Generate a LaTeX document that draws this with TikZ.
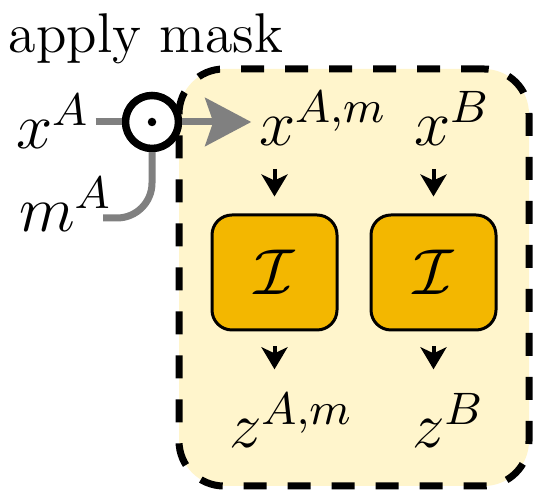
\RequirePackage{fix-cm}
\documentclass[tikz,border=0pt]{standalone}
\usetikzlibrary{arrows.meta,calc}
\definecolor{bgyellow}{HTML}{FFF5CC}
\definecolor{encorange}{HTML}{F3B700}
\definecolor{maskgray}{HTML}{808080}
\begin{document}
\begin{tikzpicture}[x=0.2pt,y=-0.2pt,
  lbl/.style={inner sep=0pt, anchor=base west, font=\fontsize{11.2}{13}\selectfont},
  mth/.style={inner sep=0pt, anchor=base west, font=\fontsize{13}{15}\selectfont},
  container/.style={draw=black, fill=bgyellow, line width=1.4pt, dash pattern=on 4.6pt off 4.2pt, rounded corners=9pt, minimum width=70pt, minimum height=83.4pt, inner sep=0pt},
  encbox/.style={draw=black, fill=encorange, line width=0.6pt, rounded corners=4pt, minimum width=25pt, minimum height=23pt, inner sep=0pt, font=\fontsize{13}{15}\selectfont},
  opnode/.style={circle, draw=black, line width=1.5pt, minimum size=10.6pt, inner sep=0pt},
  grayline/.style={draw=maskgray, line width=1.4pt},
  grayarrow/.style={grayline, -{Stealth[length=9.2pt, width=9.6pt, inset=1.6pt]}},
  arr/.style={draw=black, line width=0.8pt, -{Stealth[length=4.4pt, width=5.2pt, inset=1.2pt]}}
]
\useasboundingbox (0,0) rectangle (545,502);

% container
\node[container] (grp) at (354,277.5) {};

% title and inputs
\node[lbl] (title) at (8,53) {apply mask};
\node[mth] (xA) at (15,149) {$x^A$};
\node[mth] (mA) at (18,232) {$m^A$};

% mask operator
\node[opnode] (odot) at (152,122) {};
\fill (odot.center) circle (0.85pt);
\coordinate (mend) at (103,218);

% outputs of masking and encoders
\node[mth] (xAm) at (258,146) {$x^{A,m}$};
\node[mth] (xB) at (413,146) {$x^B$};
\node[encbox] (encA) at (274.5,272.5) {$\mathcal{I}$};
\node[encbox] (encB) at (433.5,272.5) {$\mathcal{I}$};
\node[mth] (zAm) at (228,448) {$z^{A,m}$};
\node[mth] (zB) at (411,448) {$z^B$};

% connectors
\draw[grayline, shorten <=1pt] (odot.west -| xA.east) -- (odot.west);
\draw[grayline, rounded corners=7pt] (odot.south) |- (mend);
\draw[grayarrow] (odot.east) -- ($(odot.east)+(69,0)$) coordinate (xAmin);

\draw[arr, shorten <=4.4pt, shorten >=3.4pt] (encA.north |- xAm.south) -- (encA.north);
\draw[arr, shorten <=4.4pt, shorten >=3.4pt] (encB.north |- xB.south) -- (encB.north);
\draw[arr, shorten <=3pt, shorten >=4.6pt] (encA.south) -- (encA.south |- zAm.north);
\draw[arr, shorten <=3pt, shorten >=4.6pt] (encB.south) -- (encB.south |- zB.north);
\end{tikzpicture}
\end{document}
